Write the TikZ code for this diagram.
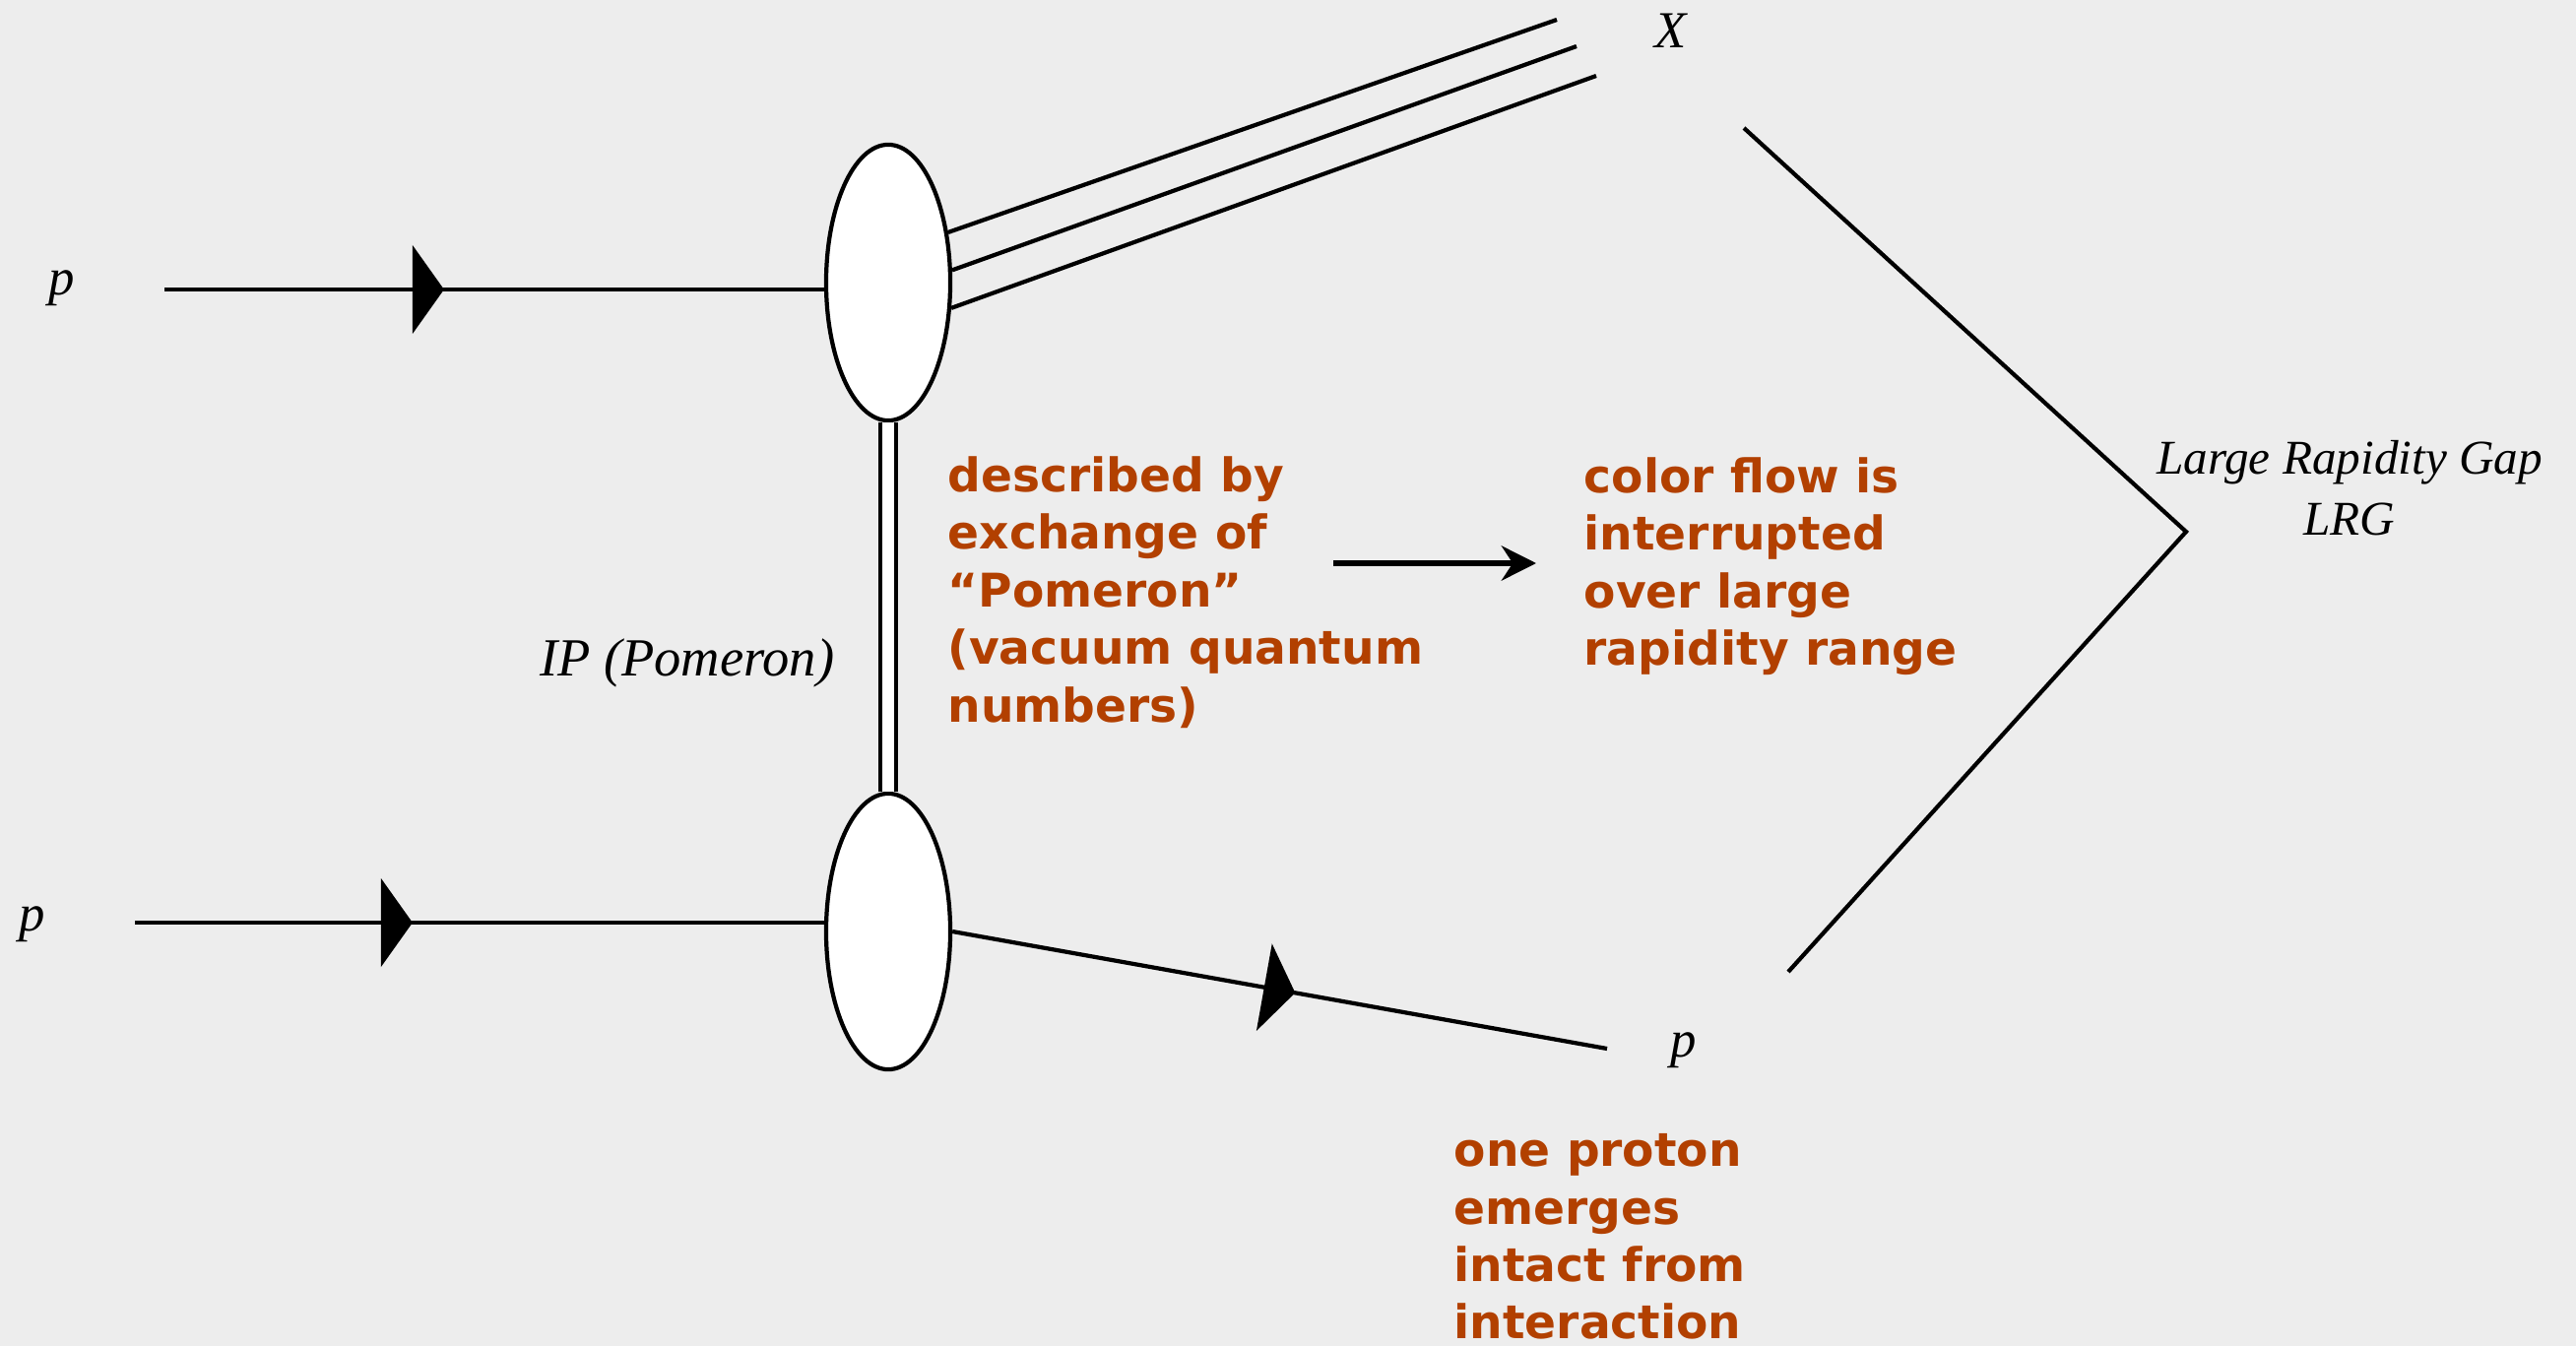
\documentclass[tikz,border=0pt]{standalone}
\usepackage{fontspec}
\setmainfont{Liberation Serif}
\newfontfamily\notefont{DejaVu Sans}
\usepackage{tikz}
\usetikzlibrary{shapes,arrows.meta,positioning,calc,decorations.markings}
\definecolor{slidebg}{RGB}{237,237,237}
\definecolor{rust}{RGB}{178,64,0}

\begin{document}
\begin{tikzpicture}[
    x=0.01cm, y=-0.01cm,
    blob/.style={ellipse, draw, line width=1.2pt, fill=white, minimum width=1.26cm, minimum height=2.8cm, inner sep=0pt},
    leg/.style={line width=1.2pt},
    fermion/.style={leg, postaction={decorate}, decoration={markings, mark=at position #1 with {\fill (-16,-45) -- (16,0) -- (-16,45) -- cycle;}}},
    pomeron/.style={line width=1pt, double=white, double distance=0.12cm},
    note/.style={font=\notefont\bfseries\fontsize{13.4pt}{16.6pt}\selectfont, text=rust, align=left, anchor=north west, inner sep=0pt},
    lab/.style={font=\itshape\fontsize{15pt}{18pt}\selectfont, inner sep=0pt},
    bigarrow/.style={-{Stealth[length=10pt,width=10pt]}, line width=1.6pt}
]

\fill[slidebg] (0,0) rectangle (2616,1367);

\node[blob] (upper) at (902,287) {};
\node[blob] (lower) at (902,946) {};

\node[lab, anchor=base] (pa) at (63,300) {p};
\node[lab, anchor=base] (pb) at (33,945) {p};
\node[lab, anchor=base] (pc) at (1710,1073) {p};
\node[lab, anchor=base] (xlab) at (1697,49) {X};
\node[lab, font=\itshape\fontsize{15.5pt}{18pt}\selectfont, anchor=base east] (ip) at (848,686) {IP (Pomeron)};
\node[lab, font=\itshape\fontsize{14pt}{17.4pt}\selectfont, align=center, anchor=north] (lrg) at (2386,447) {Large Rapidity Gap\\LRG};

\coordinate (ina) at (167,294);
\coordinate (inb) at (137,937);
\coordinate (outp) at (1632,1065);
\draw[fermion=0.4] (ina) -- (ina -| upper.west);
\draw[fermion=0.38] (inb) -- (inb -| lower.west);
\draw[fermion=0.5] (lower.east) -- (outp);

\coordinate (xa) at (1581,20);
\coordinate (xb) at (1601,47);
\coordinate (xc) at (1621,77);
\draw[leg] (upper.40) -- (xa);
\draw[leg] (upper.11) -- (xb);
\draw[leg] (upper.-22) -- (xc);

\draw[pomeron] (upper.south) -- (lower.north);

\node[note] (descr) at (962,463) {described by\\exchange of\\“Pomeron”\\(vacuum quantum\\numbers)};
\node[note] (flow) at (1608,464) {color flow is\\interrupted\\over large\\rapidity range};
\node[note] (intact) at (1476,1151) {one proton\\emerges\\intact from\\interaction};

\coordinate (arrowtail) at (1354,572);
\coordinate (arrowtip) at (1560,572);
\draw[bigarrow] (arrowtail) -- (arrowtip);

\coordinate (gaptop) at (1771,130);
\coordinate (gaptip) at (2220,540);
\coordinate (gapbot) at (1816,987);
\draw[leg] (gaptop) -- (gaptip) -- (gapbot);

\end{tikzpicture}
\end{document}
